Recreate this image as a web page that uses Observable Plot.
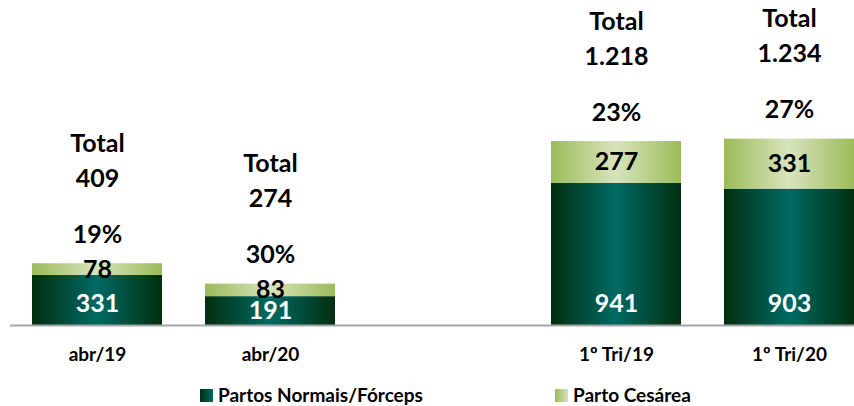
<!DOCTYPE html>
<html><head><meta charset="utf-8">
<script src="https://cdn.jsdelivr.net/npm/d3@7"></script>
<script src="https://cdn.jsdelivr.net/npm/@observablehq/plot@0.6"></script>
<style>
body{margin:0;background:#fff;font-family:Lato,"Open Sans",sans-serif;overflow:hidden;}
#legend{position:relative;width:854px;height:31px;font-weight:bold;font-size:19px;color:#000;}
#legend .sw{position:absolute;top:14px;width:13px;height:13px;}
#legend .lb{position:absolute;top:9px;line-height:21px;white-space:nowrap;}
</style>
</head><body><div id="chart"></div>
<script>
const categories = ["abr/19", "abr/20", "1º Tri/19", "1º Tri/20"];
const normais = [331, 191, 941, 903];
const cesarea = [78, 83, 277, 331];
const totals = ["409", "274", "1.218", "1.234"];
const percents = ["19%", "30%", "23%", "27%"];
const seriesNames = ["Partos Normais/Fórceps", "Parto Cesárea"];
const xDomain = ["abr/19", "abr/20", " ", "1º Tri/19", "1º Tri/20"];

const rows = categories.map((c, i) => ({
  cat: c, n: normais[i], c: cesarea[i], total: totals[i], pct: percents[i]
}));

const font = {fontFamily: "Lato, 'Open Sans', sans-serif", fontWeight: "bold"};

const plot = Plot.plot({
  width: 854,
  height: 375,
  marginLeft: 10,
  marginRight: 0,
  marginTop: 0,
  marginBottom: 50,
  style: {background: "#fff", fontFamily: "Lato, 'Open Sans', sans-serif"},
  x: {type: "band", domain: xDomain, paddingInner: 0.25, paddingOuter: 0.0636, align: 1, axis: null},
  y: {domain: [0, 2152], axis: null},
  marks: [
    Plot.barY(rows, {x: "cat", y1: 0, y2: "n", fill: "url(#gDark)"}),
    Plot.barY(rows, {x: "cat", y1: "n", y2: d => d.n + d.c, fill: "url(#gLight)"}),
    Plot.ruleY([0], {stroke: "#a6a6a6", strokeWidth: 2}),
    Plot.axisX({domain: xDomain, tickSize: 0, tickPadding: 22, fontSize: 19, fontWeight: "bold", fill: "#000",
      tickFormat: d => d.trim(), label: null}),
    Plot.text(rows, {x: "cat", y: d => Math.min(d.n / 2, 145), text: d => String(d.n), fill: "#fff", fontSize: 25, ...font}),
    Plot.text(rows, {x: "cat", y: d => d.n + d.c / 2, text: d => String(d.c), fill: "#000", fontSize: 25, ...font}),
    Plot.text(rows, {x: "cat", y: d => d.n + d.c, dy: -29, text: "pct", fill: "#000", fontSize: 25, ...font}),
    Plot.text(rows, {x: "cat", y: d => d.n + d.c, dy: -85, text: "total", fill: "#000", fontSize: 25, ...font}),
    Plot.text(rows, {x: "cat", y: d => d.n + d.c, dy: -120, text: () => "Total", fill: "#000", fontSize: 25, ...font})
  ]
});

const svg = d3.select(plot);
const defs = svg.insert("defs", ":first-child");
const gd = defs.append("linearGradient").attr("id", "gDark").attr("x1", "0").attr("x2", "1").attr("y1", "0").attr("y2", "0");
gd.append("stop").attr("offset", "0%").attr("stop-color", "#022e10");
gd.append("stop").attr("offset", "50%").attr("stop-color", "#006a64");
gd.append("stop").attr("offset", "100%").attr("stop-color", "#012f0f");
const gl = defs.append("linearGradient").attr("id", "gLight").attr("x1", "0").attr("x2", "1").attr("y1", "0").attr("y2", "0");
gl.append("stop").attr("offset", "0%").attr("stop-color", "#9bbb59");
gl.append("stop").attr("offset", "50%").attr("stop-color", "#d8e4bd");
gl.append("stop").attr("offset", "100%").attr("stop-color", "#9bbb59");

document.getElementById("chart").appendChild(plot);

const legend = document.createElement("div");
legend.id = "legend";
const swatches = [
  {x: 200, bg: "linear-gradient(to right,#022e10,#006a64)"},
  {x: 555, bg: "linear-gradient(to right,#9bbb59,#d8e4bd)"}
];
seriesNames.forEach((name, i) => {
  const sw = document.createElement("div");
  sw.className = "sw";
  sw.style.left = swatches[i].x + "px";
  sw.style.background = swatches[i].bg;
  legend.appendChild(sw);
  const lb = document.createElement("div");
  lb.className = "lb";
  lb.style.left = (swatches[i].x + 18) + "px";
  lb.textContent = name;
  legend.appendChild(lb);
});
document.body.appendChild(legend);
</script>
</body></html>
